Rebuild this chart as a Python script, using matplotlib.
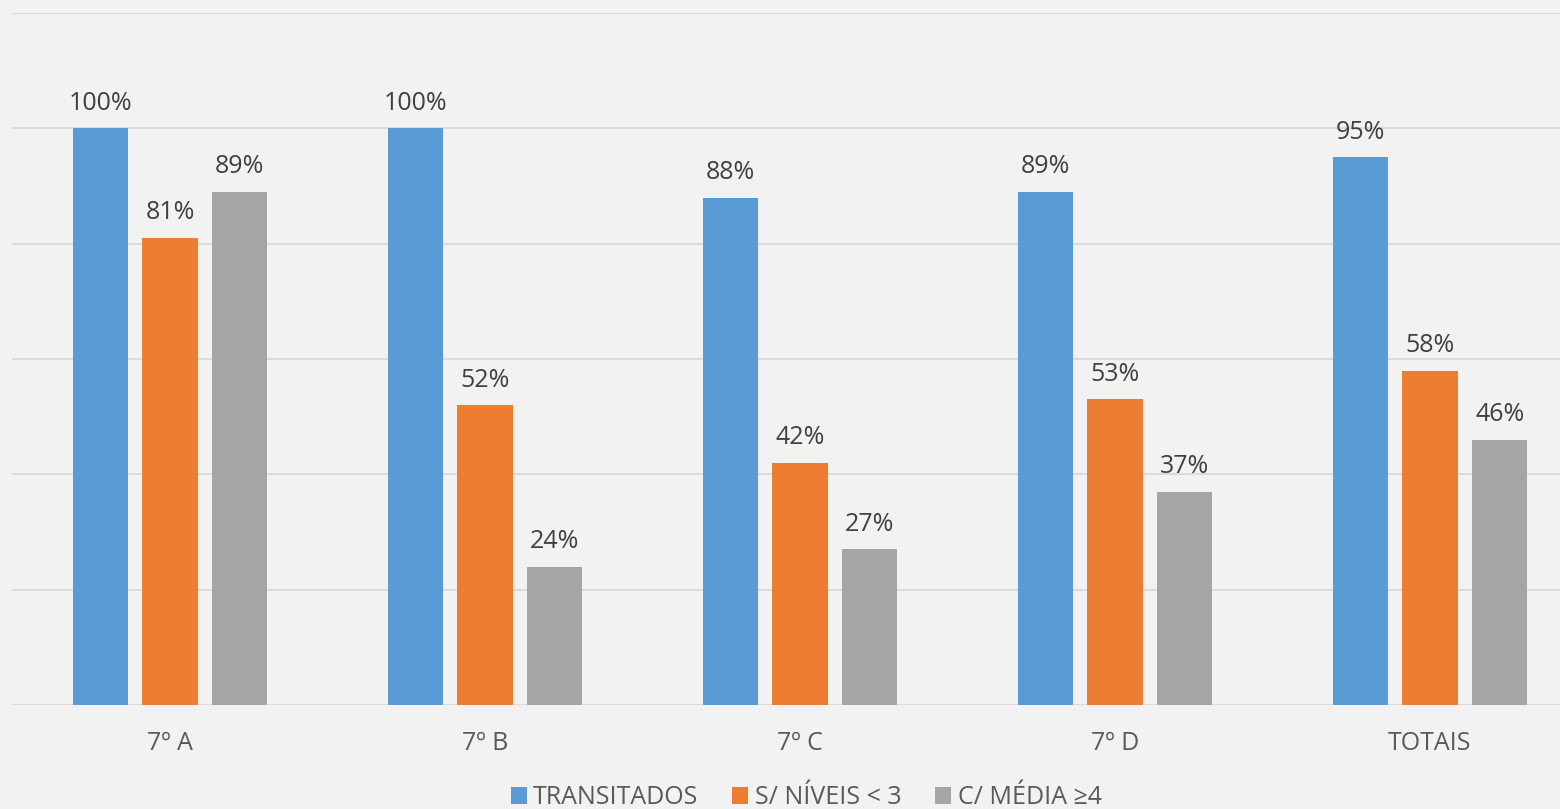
import numpy as np
import matplotlib.pyplot as plt
from matplotlib.patches import Patch

plt.rcParams['font.family'] = ['Open Sans', 'DejaVu Sans']

# --- Data ---
categories = ["7º A", "7º B", "7º C", "7º D", "TOTAIS"]
series_names = ["TRANSITADOS", "S/ NÍVEIS < 3", "C/ MÉDIA ≥4"]
transitados = [100, 100, 88, 89, 95]
niveis = [81, 52, 42, 53, 58]
media = [89, 24, 27, 37, 46]

colors = ['#5B9BD5', '#ED7D31', '#A5A5A5']
bg = '#F2F2F2'
fs = 18

W, H = 1560, 809
fig = plt.figure(figsize=(W / 100, H / 100), dpi=100, facecolor=bg)
ax = fig.add_axes([12.5 / W, 104 / H, 1575 / W, 692 / H], facecolor=bg)

x = np.arange(len(categories))
width = 0.175
step = 0.222
for i, (vals, col) in enumerate(zip([transitados, niveis, media], colors)):
    pos = x + (i - 1) * step
    bars = ax.bar(pos, vals, width, color=col, zorder=3)
    for b, v in zip(bars, vals):
        ax.annotate(f"{v}%", (b.get_x() + b.get_width() / 2, v),
                    xytext=(0, 9), textcoords='offset points',
                    ha='center', va='bottom', fontsize=fs, color='#404040')

ax.set_xlim(-0.5, 4.5)
ax.set_ylim(0, 120)
ax.set_yticks(np.arange(0, 121, 20))
ax.yaxis.grid(True, color='#D9D9D9', linewidth=1.3, zorder=0)
ax.set_yticklabels([])
ax.tick_params(axis='y', length=0)
ax.set_xticks(x)
ax.set_xticklabels(categories, fontsize=fs, color='#595959')
ax.tick_params(axis='x', length=0, pad=19)
for s in ax.spines.values():
    s.set_visible(False)

handles = [Patch(facecolor=c) for c in colors]
fig.legend(handles, series_names, loc='center', bbox_to_anchor=(806 / W, 11 / H),
           ncol=3, frameon=False, fontsize=fs, labelcolor='#595959',
           handlelength=0.65, handleheight=0.65, handletextpad=0.25, columnspacing=1.35)

fig.savefig('out.png', dpi=100, facecolor=bg)
